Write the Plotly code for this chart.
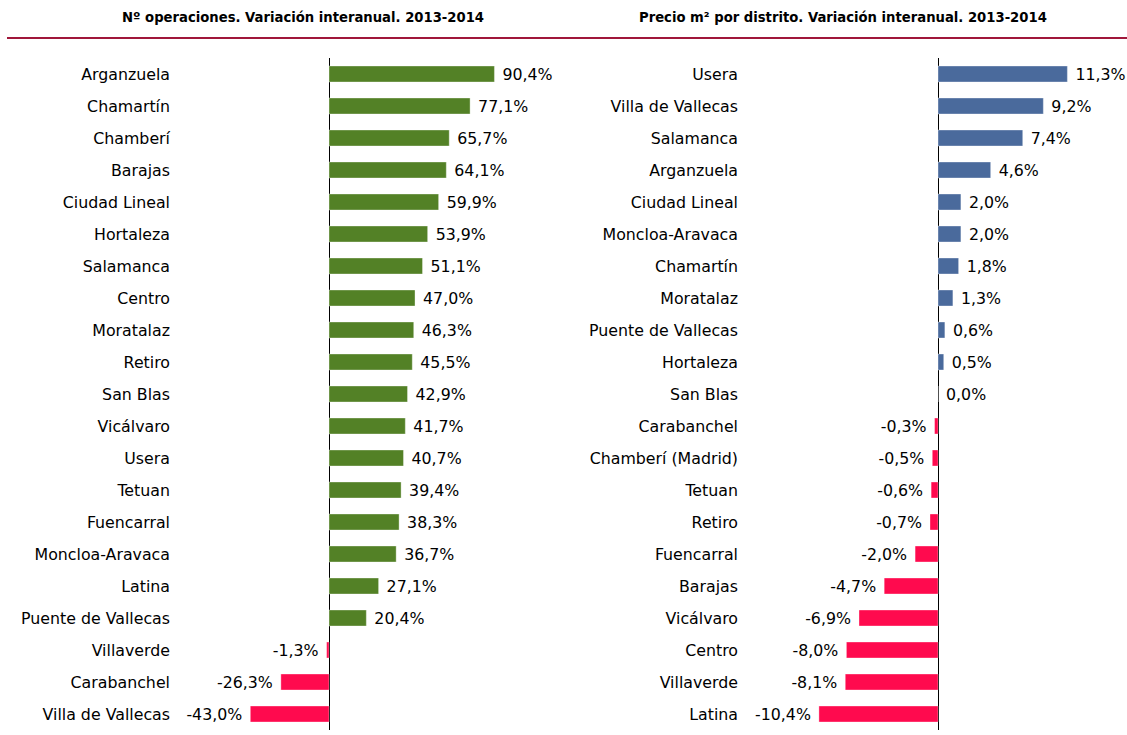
import plotly.graph_objects as go

W, H = 1127, 735

left_cats = ["Arganzuela", "Chamartín", "Chamberí", "Barajas", "Ciudad Lineal", "Hortaleza",
             "Salamanca", "Centro", "Moratalaz", "Retiro", "San Blas", "Vicálvaro", "Usera",
             "Tetuan", "Fuencarral", "Moncloa-Aravaca", "Latina", "Puente de Vallecas",
             "Villaverde", "Carabanchel", "Villa de Vallecas"]
left_vals = [90.4, 77.1, 65.7, 64.1, 59.9, 53.9, 51.1, 47.0, 46.3, 45.5, 42.9, 41.7, 40.7,
             39.4, 38.3, 36.7, 27.1, 20.4, -1.3, -26.3, -43.0]

right_cats = ["Usera", "Villa de Vallecas", "Salamanca", "Arganzuela", "Ciudad Lineal",
              "Moncloa-Aravaca", "Chamartín", "Moratalaz", "Puente de Vallecas", "Hortaleza",
              "San Blas", "Carabanchel", "Chamberí (Madrid)", "Tetuan", "Retiro", "Fuencarral",
              "Barajas", "Vicálvaro", "Centro", "Villaverde", "Latina"]
right_vals = [11.3, 9.2, 7.4, 4.6, 2.0, 2.0, 1.8, 1.3, 0.6, 0.5, 0.0, -0.3, -0.5, -0.6,
              -0.7, -2.0, -4.7, -6.9, -8.0, -8.1, -10.4]

title_left = "Nº operaciones. Variación interanual. 2013-2014"
title_right = "Precio m² por distrito. Variación interanual. 2013-2014"

FONT = "DejaVu Sans, Liberation Sans, Arial, sans-serif"
POS_L = "#538126"
POS_R = "#4A6A9C"
NEG = "#FF0A4E"
LBL = 15.8


def fmt(v):
    s = f"{v:.1f}".replace(".", ",") + "%"
    return (" " + s) if v >= 0 else (s + " ")


def px(x):
    return x / W


def py(y):
    return 1 - y / H


fig = go.Figure()

fig.add_trace(go.Bar(
    x=left_vals, y=left_cats, orientation="h",
    marker=dict(color=[POS_L if v >= 0 else NEG for v in left_vals],
                line=dict(color="rgba(255,255,255,0.35)", width=1)),
    text=[fmt(v) for v in left_vals], textposition="outside", constraintext="none",
    textfont=dict(family=FONT, size=LBL, color="#000"),
    cliponaxis=False, width=0.5, xaxis="x", yaxis="y", hoverinfo="skip"))

fig.add_trace(go.Bar(
    x=right_vals, y=right_cats, orientation="h",
    marker=dict(color=[POS_R if v >= 0 else NEG for v in right_vals],
                line=dict(color="rgba(255,255,255,0.35)", width=1)),
    text=[fmt(v) for v in right_vals], textposition="outside", constraintext="none",
    textfont=dict(family=FONT, size=LBL, color="#000"),
    cliponaxis=False, width=0.5, xaxis="x2", yaxis="y2", hoverinfo="skip"))

sL = 1.83
l0, l1 = 171, 560
sR = 11.45
r0, r1 = 739, 1120

ydom = [py(730), py(58)]

fig.update_layout(
    width=W, height=H, margin=dict(l=0, r=0, t=0, b=0),
    paper_bgcolor="white", plot_bgcolor="white", showlegend=False,
    font=dict(family=FONT, size=LBL, color="#000"),
    xaxis=dict(domain=[px(l0), px(l1)], range=[(l0 - 329) / sL, (l1 - 329) / sL],
               showgrid=False, showticklabels=False, zeroline=True,
               zerolinecolor="#000", zerolinewidth=1, fixedrange=True),
    yaxis=dict(domain=ydom, autorange="reversed", showgrid=False, ticks="",
               tickfont=dict(family=FONT, size=LBL, color="#000"), showline=False),
    xaxis2=dict(domain=[px(r0), px(r1)], range=[(r0 - 938) / sR, (r1 - 938) / sR],
                showgrid=False, showticklabels=False, zeroline=True,
                zerolinecolor="#000", zerolinewidth=1, anchor="y2"),
    yaxis2=dict(domain=ydom, autorange="reversed", showgrid=False, ticks="",
                tickfont=dict(family=FONT, size=LBL, color="#000"), anchor="x2",
                showline=False),
)

fig.add_annotation(text=f"<b>{title_left}</b>", xref="paper", yref="paper",
                   x=px(303), y=py(18), xanchor="center", yanchor="middle", showarrow=False,
                   font=dict(family=FONT, size=13.2, color="#000"))
fig.add_annotation(text=f"<b>{title_right}</b>", xref="paper", yref="paper",
                   x=px(843), y=py(18), xanchor="center", yanchor="middle", showarrow=False,
                   font=dict(family=FONT, size=13.2, color="#000"))
fig.add_shape(type="line", xref="paper", yref="paper",
              x0=px(7), x1=1, y0=py(38), y1=py(38),
              line=dict(color="#A0173A", width=2))

fig.write_html("out.html")
